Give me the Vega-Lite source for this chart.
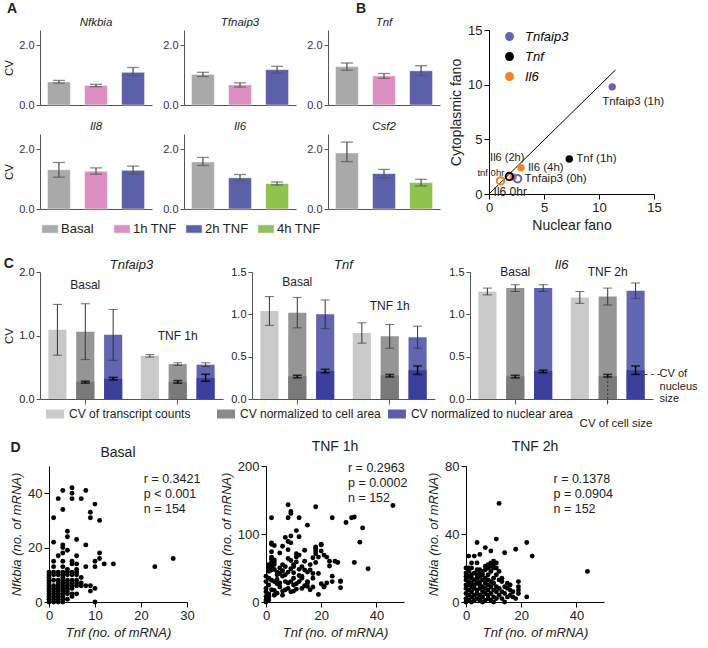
{
"$schema":"https://vega.github.io/schema/vega-lite/v6.json",
"padding":{"left":3,"top":2,"right":2,"bottom":2},
"background":"white",
"config":{
 "font":"Liberation Sans",
 "view":{"stroke":null},
 "axis":{"grid":false,"labelFont":"Liberation Sans","titleFont":"Liberation Sans","titleFontWeight":"normal","domainColor":"#333","tickColor":"#333","labelColor":"#222","titleColor":"#222","labelFlush":false,"labelOverlap":false},
 "title":{"font":"Liberation Sans","fontWeight":"normal","color":"#222"},
 "text":{"font":"Liberation Sans","color":"#222"},
 "legend":{"labelFont":"Liberation Sans"}
},
"datasets":{
 "A":[
  {"gene":"Nfkbia","cond":"Basal","cv":0.77,"lo":0.73,"hi":0.82},
  {"gene":"Nfkbia","cond":"1h TNF","cv":0.65,"lo":0.61,"hi":0.69},
  {"gene":"Nfkbia","cond":"2h TNF","cv":1.09,"lo":0.98,"hi":1.25},
  {"gene":"Tfnaip3","cond":"Basal","cv":1.02,"lo":0.95,"hi":1.09},
  {"gene":"Tfnaip3","cond":"1h TNF","cv":0.67,"lo":0.6,"hi":0.74},
  {"gene":"Tfnaip3","cond":"2h TNF","cv":1.18,"lo":1.06,"hi":1.29},
  {"gene":"Tnf","cond":"Basal","cv":1.28,"lo":1.16,"hi":1.4},
  {"gene":"Tnf","cond":"1h TNF","cv":0.97,"lo":0.89,"hi":1.05},
  {"gene":"Tnf","cond":"2h TNF","cv":1.14,"lo":0.98,"hi":1.31},
  {"gene":"Il8","cond":"Basal","cv":1.31,"lo":1.06,"hi":1.55},
  {"gene":"Il8","cond":"1h TNF","cv":1.26,"lo":1.16,"hi":1.37},
  {"gene":"Il8","cond":"2h TNF","cv":1.29,"lo":1.16,"hi":1.43},
  {"gene":"Il6","cond":"Basal","cv":1.57,"lo":1.45,"hi":1.72},
  {"gene":"Il6","cond":"2h TNF","cv":1.04,"lo":0.95,"hi":1.15},
  {"gene":"Il6","cond":"4h TNF","cv":0.85,"lo":0.8,"hi":0.9},
  {"gene":"Csf2","cond":"Basal","cv":1.87,"lo":1.58,"hi":2.23},
  {"gene":"Csf2","cond":"2h TNF","cv":1.18,"lo":1.04,"hi":1.32},
  {"gene":"Csf2","cond":"4h TNF","cv":0.88,"lo":0.77,"hi":0.99}
 ],
 "B":[
  {"gene":"Tnfaip3","time":"1h","nuclear":11.2,"cyto":9.8,"label":"Tnfaip3 (1h)"},
  {"gene":"Tnf","time":"1h","nuclear":7.3,"cyto":3.2,"label":"Tnf (1h)"},
  {"gene":"Il6","time":"4h","nuclear":2.9,"cyto":2.4,"label":"Il6 (4h)"},
  {"gene":"Il6","time":"2h","nuclear":2.2,"cyto":1.55,"label":"Il6 (2h)"},
  {"gene":"Tnfaip3","time":"0h","nuclear":2.6,"cyto":1.4,"label":"Tnfaip3 (0h)"},
  {"gene":"Tnf","time":"0h","nuclear":1.85,"cyto":1.6,"label":"tnf 0hr"},
  {"gene":"Il6","time":"0h","nuclear":1.05,"cyto":1.2,"label":"Il6 0hr"}
 ],
 "C":[
  {"gene":"Tnfaip3","group":"Basal","measure":"transcript","cv":1.09,"lo":0.69,"hi":1.49},
  {"gene":"Tnfaip3","group":"Basal","measure":"cell","cv":1.06,"lo":0.62,"hi":1.5,"size":0.27,"size_lo":0.25,"size_hi":0.28},
  {"gene":"Tnfaip3","group":"Basal","measure":"nuclear","cv":1.01,"lo":0.61,"hi":1.41,"size":0.32,"size_lo":0.3,"size_hi":0.34},
  {"gene":"Tnfaip3","group":"TNF 1h","measure":"transcript","cv":0.68,"lo":0.66,"hi":0.7},
  {"gene":"Tnfaip3","group":"TNF 1h","measure":"cell","cv":0.55,"lo":0.53,"hi":0.57,"size":0.27,"size_lo":0.25,"size_hi":0.29},
  {"gene":"Tnfaip3","group":"TNF 1h","measure":"nuclear","cv":0.54,"lo":0.51,"hi":0.57,"size":0.33,"size_lo":0.28,"size_hi":0.39},
  {"gene":"Tnf","group":"Basal","measure":"transcript","cv":1.04,"lo":0.87,"hi":1.21},
  {"gene":"Tnf","group":"Basal","measure":"cell","cv":1.02,"lo":0.84,"hi":1.2,"size":0.27,"size_lo":0.25,"size_hi":0.28},
  {"gene":"Tnf","group":"Basal","measure":"nuclear","cv":1.0,"lo":0.83,"hi":1.17,"size":0.33,"size_lo":0.31,"size_hi":0.35},
  {"gene":"Tnf","group":"TNF 1h","measure":"transcript","cv":0.78,"lo":0.66,"hi":0.9},
  {"gene":"Tnf","group":"TNF 1h","measure":"cell","cv":0.74,"lo":0.6,"hi":0.88,"size":0.28,"size_lo":0.26,"size_hi":0.29},
  {"gene":"Tnf","group":"TNF 1h","measure":"nuclear","cv":0.73,"lo":0.6,"hi":0.86,"size":0.34,"size_lo":0.29,"size_hi":0.39},
  {"gene":"Il6","group":"Basal","measure":"transcript","cv":1.27,"lo":1.23,"hi":1.31},
  {"gene":"Il6","group":"Basal","measure":"cell","cv":1.31,"lo":1.27,"hi":1.35,"size":0.27,"size_lo":0.25,"size_hi":0.28},
  {"gene":"Il6","group":"Basal","measure":"nuclear","cv":1.31,"lo":1.27,"hi":1.35,"size":0.33,"size_lo":0.31,"size_hi":0.34},
  {"gene":"Il6","group":"TNF 2h","measure":"transcript","cv":1.2,"lo":1.13,"hi":1.27},
  {"gene":"Il6","group":"TNF 2h","measure":"cell","cv":1.21,"lo":1.11,"hi":1.31,"size":0.27,"size_lo":0.26,"size_hi":0.29},
  {"gene":"Il6","group":"TNF 2h","measure":"nuclear","cv":1.28,"lo":1.19,"hi":1.37,"size":0.34,"size_lo":0.29,"size_hi":0.39}
 ],
 "D1":[
  {"tnf":0,"nfkbia":0},{"tnf":0,"nfkbia":1},{"tnf":0,"nfkbia":2},{"tnf":0,"nfkbia":3},{"tnf":0,"nfkbia":4},{"tnf":0,"nfkbia":5},{"tnf":0,"nfkbia":6},{"tnf":0,"nfkbia":7},{"tnf":0,"nfkbia":8},{"tnf":0,"nfkbia":9},{"tnf":0,"nfkbia":10},{"tnf":0,"nfkbia":11},
  {"tnf":1,"nfkbia":0},{"tnf":1,"nfkbia":1},{"tnf":1,"nfkbia":2},{"tnf":1,"nfkbia":3},{"tnf":1,"nfkbia":4},{"tnf":1,"nfkbia":5},{"tnf":1,"nfkbia":6},{"tnf":1,"nfkbia":8},{"tnf":1,"nfkbia":10},{"tnf":1,"nfkbia":11},{"tnf":1,"nfkbia":13},{"tnf":1,"nfkbia":15},{"tnf":1,"nfkbia":22},{"tnf":1,"nfkbia":31},
  {"tnf":2,"nfkbia":0},{"tnf":2,"nfkbia":1},{"tnf":2,"nfkbia":2},{"tnf":2,"nfkbia":3},{"tnf":2,"nfkbia":4},{"tnf":2,"nfkbia":5},{"tnf":2,"nfkbia":6},{"tnf":2,"nfkbia":7},{"tnf":2,"nfkbia":8},{"tnf":2,"nfkbia":10},{"tnf":2,"nfkbia":11},{"tnf":2,"nfkbia":17},{"tnf":2,"nfkbia":38},
  {"tnf":3,"nfkbia":0},{"tnf":3,"nfkbia":1},{"tnf":3,"nfkbia":2},{"tnf":3,"nfkbia":3},{"tnf":3,"nfkbia":4},{"tnf":3,"nfkbia":5},{"tnf":3,"nfkbia":6},{"tnf":3,"nfkbia":7},{"tnf":3,"nfkbia":8},{"tnf":3,"nfkbia":9},{"tnf":3,"nfkbia":10},{"tnf":3,"nfkbia":11},{"tnf":3,"nfkbia":13},{"tnf":3,"nfkbia":15},{"tnf":3,"nfkbia":18},{"tnf":3,"nfkbia":20},{"tnf":3,"nfkbia":21},{"tnf":3,"nfkbia":34},{"tnf":3,"nfkbia":41},
  {"tnf":4,"nfkbia":1},{"tnf":4,"nfkbia":3},{"tnf":4,"nfkbia":4},{"tnf":4,"nfkbia":5},{"tnf":4,"nfkbia":6},{"tnf":4,"nfkbia":7},{"tnf":4,"nfkbia":8},{"tnf":4,"nfkbia":10},{"tnf":4,"nfkbia":11},{"tnf":4,"nfkbia":12},{"tnf":4,"nfkbia":19},{"tnf":4,"nfkbia":24},{"tnf":4,"nfkbia":26},
  {"tnf":5,"nfkbia":2},{"tnf":5,"nfkbia":3},{"tnf":5,"nfkbia":5},{"tnf":5,"nfkbia":6},{"tnf":5,"nfkbia":7},{"tnf":5,"nfkbia":8},{"tnf":5,"nfkbia":10},{"tnf":5,"nfkbia":11},{"tnf":5,"nfkbia":14},{"tnf":5,"nfkbia":15},{"tnf":5,"nfkbia":38},{"tnf":5,"nfkbia":40},{"tnf":5,"nfkbia":42},
  {"tnf":6,"nfkbia":3},{"tnf":6,"nfkbia":6},{"tnf":6,"nfkbia":7},{"tnf":6,"nfkbia":8},{"tnf":6,"nfkbia":10},{"tnf":6,"nfkbia":11},{"tnf":6,"nfkbia":12},{"tnf":6,"nfkbia":14},{"tnf":6,"nfkbia":17},{"tnf":6,"nfkbia":23},
  {"tnf":7,"nfkbia":6},{"tnf":7,"nfkbia":7},{"tnf":7,"nfkbia":9},{"tnf":7,"nfkbia":38},
  {"tnf":8,"nfkbia":6},{"tnf":8,"nfkbia":13},{"tnf":8,"nfkbia":21},{"tnf":8,"nfkbia":41},
  {"tnf":9,"nfkbia":4},{"tnf":9,"nfkbia":6},{"tnf":9,"nfkbia":31},{"tnf":9,"nfkbia":33},
  {"tnf":10,"nfkbia":0},{"tnf":10,"nfkbia":5},{"tnf":10,"nfkbia":13},{"tnf":10,"nfkbia":15},{"tnf":10,"nfkbia":36},
  {"tnf":11,"nfkbia":16},{"tnf":11,"nfkbia":18},{"tnf":11,"nfkbia":30},
  {"tnf":12,"nfkbia":14},{"tnf":14,"nfkbia":14},{"tnf":23,"nfkbia":13},{"tnf":27,"nfkbia":16}
 ],
 "D2":[
  {"tnf":46,"nfkbia":142},{"tnf":8,"nfkbia":143},{"tnf":18,"nfkbia":140},{"tnf":9,"nfkbia":133},{"tnf":9,"nfkbia":130},{"tnf":2,"nfkbia":124},{"tnf":8,"nfkbia":124},{"tnf":12,"nfkbia":124},{"tnf":24,"nfkbia":124},{"tnf":31,"nfkbia":124},{"tnf":32,"nfkbia":125},{"tnf":29,"nfkbia":117},{"tnf":15,"nfkbia":113},{"tnf":35,"nfkbia":109},{"tnf":34,"nfkbia":88},{"tnf":11,"nfkbia":105},{"tnf":12,"nfkbia":96},{"tnf":9,"nfkbia":97},{"tnf":7,"nfkbia":95},{"tnf":8,"nfkbia":89},
  {"tnf":9,"nfkbia":87},{"tnf":2,"nfkbia":87},{"tnf":2,"nfkbia":85},{"tnf":3,"nfkbia":83},{"tnf":6,"nfkbia":82},{"tnf":20,"nfkbia":85},{"tnf":18,"nfkbia":81},{"tnf":18,"nfkbia":75},{"tnf":14,"nfkbia":76},{"tnf":21,"nfkbia":69},{"tnf":22,"nfkbia":66},{"tnf":23,"nfkbia":60},{"tnf":26,"nfkbia":58},{"tnf":32,"nfkbia":58},{"tnf":37,"nfkbia":49},{"tnf":24,"nfkbia":38},{"tnf":27,"nfkbia":30},{"tnf":27,"nfkbia":21},{"tnf":21,"nfkbia":23},{"tnf":19,"nfkbia":11},
  {"tnf":17,"nfkbia":22},{"tnf":13,"nfkbia":38},{"tnf":0,"nfkbia":20},{"tnf":0,"nfkbia":15},{"tnf":1,"nfkbia":8},{"tnf":0,"nfkbia":0},{"tnf":0,"nfkbia":3},{"tnf":1,"nfkbia":25},{"tnf":2,"nfkbia":32},{"tnf":2,"nfkbia":74},{"tnf":2,"nfkbia":66},{"tnf":2,"nfkbia":63},{"tnf":3,"nfkbia":59},{"tnf":5,"nfkbia":72},{"tnf":8,"nfkbia":77},{"tnf":11,"nfkbia":71},{"tnf":11,"nfkbia":66},{"tnf":12,"nfkbia":69},{"tnf":8,"nfkbia":64},{"tnf":9,"nfkbia":61},
  {"tnf":11,"nfkbia":59},{"tnf":14,"nfkbia":60},{"tnf":17,"nfkbia":65},{"tnf":18,"nfkbia":71},{"tnf":20,"nfkbia":84},{"tnf":18,"nfkbia":79},{"tnf":20,"nfkbia":75},{"tnf":3,"nfkbia":30},{"tnf":4,"nfkbia":27},{"tnf":2,"nfkbia":18},{"tnf":3,"nfkbia":17},{"tnf":5,"nfkbia":28},{"tnf":7,"nfkbia":30},{"tnf":8,"nfkbia":44},{"tnf":9,"nfkbia":49},{"tnf":10,"nfkbia":43},{"tnf":10,"nfkbia":35},{"tnf":9,"nfkbia":30},{"tnf":10,"nfkbia":16},{"tnf":11,"nfkbia":19},
  {"tnf":12,"nfkbia":39},{"tnf":13,"nfkbia":35},{"tnf":15,"nfkbia":44},{"tnf":16,"nfkbia":47},{"tnf":17,"nfkbia":42},{"tnf":17,"nfkbia":35},{"tnf":15,"nfkbia":30},{"tnf":15,"nfkbia":23},{"tnf":14,"nfkbia":24},{"tnf":15,"nfkbia":28},{"tnf":16,"nfkbia":18},{"tnf":19,"nfkbia":42},{"tnf":21,"nfkbia":22},{"tnf":24,"nfkbia":30},{"tnf":27,"nfkbia":31},{"tnf":6,"nfkbia":16},{"tnf":6,"nfkbia":10},{"tnf":8,"nfkbia":20},{"tnf":9,"nfkbia":15},{"tnf":11,"nfkbia":27},
  {"tnf":1,"nfkbia":55},{"tnf":1,"nfkbia":50},{"tnf":1,"nfkbia":45},{"tnf":2,"nfkbia":52},{"tnf":2,"nfkbia":47},{"tnf":3,"nfkbia":55},{"tnf":3,"nfkbia":48},{"tnf":4,"nfkbia":44},{"tnf":4,"nfkbia":40},{"tnf":5,"nfkbia":50},{"tnf":5,"nfkbia":42},{"tnf":0,"nfkbia":38},{"tnf":0,"nfkbia":30},{"tnf":1,"nfkbia":35},{"tnf":6,"nfkbia":55},{"tnf":6,"nfkbia":46},{"tnf":7,"nfkbia":52},{"tnf":7,"nfkbia":40},{"tnf":10,"nfkbia":52},{"tnf":10,"nfkbia":55},
  {"tnf":12,"nfkbia":48},{"tnf":13,"nfkbia":52},{"tnf":14,"nfkbia":47},{"tnf":16,"nfkbia":55},{"tnf":18,"nfkbia":58},{"tnf":19,"nfkbia":66},{"tnf":22,"nfkbia":28},{"tnf":23,"nfkbia":53},{"tnf":20,"nfkbia":27},{"tnf":25,"nfkbia":60},{"tnf":2,"nfkbia":58},{"tnf":3,"nfkbia":62},{"tnf":4,"nfkbia":33},{"tnf":6,"nfkbia":38},{"tnf":10,"nfkbia":25},{"tnf":12,"nfkbia":30},{"tnf":13,"nfkbia":20},{"tnf":8,"nfkbia":28},{"tnf":7,"nfkbia":18},{"tnf":5,"nfkbia":22},
  {"tnf":1,"nfkbia":3},{"tnf":0,"nfkbia":8},{"tnf":1,"nfkbia":12},{"tnf":4,"nfkbia":13},{"tnf":3,"nfkbia":10}
 ],
 "D3":[
  {"tnf":12,"nfkbia":58},{"tnf":11,"nfkbia":37},{"tnf":4,"nfkbia":35},{"tnf":22,"nfkbia":35},{"tnf":18,"nfkbia":31},{"tnf":14,"nfkbia":29},{"tnf":24,"nfkbia":27},{"tnf":44,"nfkbia":18},{"tnf":7,"nfkbia":32},{"tnf":9,"nfkbia":30},{"tnf":1,"nfkbia":27},{"tnf":3,"nfkbia":27},{"tnf":5,"nfkbia":28},{"tnf":2,"nfkbia":23},{"tnf":4,"nfkbia":23},{"tnf":11,"nfkbia":23},{"tnf":10,"nfkbia":22},{"tnf":9,"nfkbia":21},{"tnf":8,"nfkbia":20},{"tnf":7,"nfkbia":19},
  {"tnf":5,"nfkbia":19},{"tnf":0,"nfkbia":20},{"tnf":1,"nfkbia":20},{"tnf":2,"nfkbia":20},{"tnf":19,"nfkbia":12},{"tnf":19,"nfkbia":9},{"tnf":19,"nfkbia":7},{"tnf":19,"nfkbia":5},{"tnf":22,"nfkbia":3},{"tnf":17,"nfkbia":3},{"tnf":16,"nfkbia":4},{"tnf":14,"nfkbia":0},{"tnf":10,"nfkbia":0},{"tnf":6,"nfkbia":0},{"tnf":2,"nfkbia":0},{"tnf":0,"nfkbia":0},{"tnf":16,"nfkbia":7},{"tnf":14,"nfkbia":9},{"tnf":13,"nfkbia":12},{"tnf":13,"nfkbia":14},
  {"tnf":15,"nfkbia":11},{"tnf":0,"nfkbia":2},{"tnf":0,"nfkbia":5},{"tnf":0,"nfkbia":8},{"tnf":0,"nfkbia":10},{"tnf":0,"nfkbia":13},{"tnf":0,"nfkbia":15},{"tnf":0,"nfkbia":17},{"tnf":1,"nfkbia":1},{"tnf":1,"nfkbia":4},{"tnf":1,"nfkbia":7},{"tnf":1,"nfkbia":10},{"tnf":1,"nfkbia":12},{"tnf":1,"nfkbia":15},{"tnf":1,"nfkbia":18},{"tnf":2,"nfkbia":3},{"tnf":2,"nfkbia":6},{"tnf":2,"nfkbia":9},{"tnf":2,"nfkbia":11},{"tnf":2,"nfkbia":14},
  {"tnf":2,"nfkbia":16},{"tnf":3,"nfkbia":1},{"tnf":3,"nfkbia":4},{"tnf":3,"nfkbia":8},{"tnf":3,"nfkbia":10},{"tnf":3,"nfkbia":13},{"tnf":3,"nfkbia":17},{"tnf":4,"nfkbia":2},{"tnf":4,"nfkbia":5},{"tnf":4,"nfkbia":7},{"tnf":4,"nfkbia":11},{"tnf":4,"nfkbia":14},{"tnf":4,"nfkbia":16},{"tnf":4,"nfkbia":19},{"tnf":5,"nfkbia":1},{"tnf":5,"nfkbia":4},{"tnf":5,"nfkbia":8},{"tnf":5,"nfkbia":10},{"tnf":5,"nfkbia":12},{"tnf":5,"nfkbia":15},
  {"tnf":5,"nfkbia":17},{"tnf":6,"nfkbia":3},{"tnf":6,"nfkbia":6},{"tnf":6,"nfkbia":9},{"tnf":6,"nfkbia":13},{"tnf":6,"nfkbia":16},{"tnf":6,"nfkbia":18},{"tnf":7,"nfkbia":1},{"tnf":7,"nfkbia":5},{"tnf":7,"nfkbia":8},{"tnf":7,"nfkbia":11},{"tnf":7,"nfkbia":14},{"tnf":7,"nfkbia":21},{"tnf":8,"nfkbia":2},{"tnf":8,"nfkbia":4},{"tnf":8,"nfkbia":7},{"tnf":8,"nfkbia":10},{"tnf":8,"nfkbia":13},{"tnf":8,"nfkbia":16},{"tnf":8,"nfkbia":22},
  {"tnf":9,"nfkbia":1},{"tnf":9,"nfkbia":5},{"tnf":9,"nfkbia":9},{"tnf":9,"nfkbia":12},{"tnf":9,"nfkbia":18},{"tnf":9,"nfkbia":23},{"tnf":10,"nfkbia":3},{"tnf":10,"nfkbia":7},{"tnf":10,"nfkbia":11},{"tnf":10,"nfkbia":14},{"tnf":10,"nfkbia":20},{"tnf":10,"nfkbia":24},{"tnf":11,"nfkbia":2},{"tnf":11,"nfkbia":6},{"tnf":11,"nfkbia":9},{"tnf":11,"nfkbia":16},{"tnf":11,"nfkbia":20},{"tnf":12,"nfkbia":4},{"tnf":12,"nfkbia":8},{"tnf":12,"nfkbia":13},
  {"tnf":12,"nfkbia":18},{"tnf":13,"nfkbia":2},{"tnf":13,"nfkbia":6},{"tnf":14,"nfkbia":5},{"tnf":15,"nfkbia":3},{"tnf":15,"nfkbia":8},{"tnf":16,"nfkbia":10},{"tnf":17,"nfkbia":6},{"tnf":18,"nfkbia":2}
 ]
},
"spacing":21,
"resolve":{"scale":{"color":"independent"},"legend":{"color":"independent"}},
"vconcat":[
 {"spacing":0,
  "resolve":{"scale":{"color":"independent"},"legend":{"color":"independent"}},
  "vconcat":[
  {"width":349,"height":12,
   "data":{"values":[{"panel":"A"},{"panel":"B"}]},
   "mark":{"type":"text","align":"left","baseline":"middle","dx":-33,"fontSize":14,"fontWeight":"bold"},
   "encoding":{"x":{"field":"panel","type":"nominal","scale":{"type":"point","padding":0},"axis":null},"text":{"field":"panel"}}},
 {"hconcat":[
  {"spacing":9,
   "resolve":{"scale":{"color":"independent"},"legend":{"color":"independent"}},
   "vconcat":[
    {"columns":3,"spacing":{"row":10,"column":10},
     "resolve":{"scale":{"color":"independent"},"legend":{"color":"independent"}},
     "concat":[
      {"data":{"name":"A"},"transform":[{"filter":"datum.gene == 'Nfkbia'"}],"width":112,"height":75,
       "title":{"text":"Nfkbia","fontStyle":"italic","fontSize":11.5,"offset":2},
       "encoding":{"x":{"field":"cond","type":"nominal","sort":["Basal","1h TNF","2h TNF","4h TNF"],"scale":{"paddingInner":0.38,"paddingOuter":0.2},"axis":{"labels":false,"ticks":false,"title":null,"domainColor":"#555"}}},
       "layer":[
        {"mark":{"type":"bar","stroke":"#ffffff","strokeOpacity":0.5,"strokeWidth":1},"encoding":{"y":{"field":"cv","type":"quantitative","title":"CV","scale":{"domain":[0,2.5],"nice":false},"axis":{"values":[0,1,2],"format":".1f","tickSize":4,"labelFontSize":11,"titleFontSize":11.5,"domainColor":"#555","tickColor":"#555","labelColor":"#333"}},"color":{"field":"cond","type":"nominal","scale":{"domain":["Basal","1h TNF","2h TNF","4h TNF"],"range":["#a9a9a9","#dd8fc2","#5b60a9","#8ec352"]},"legend":null}}},
        {"mark":{"type":"rule","color":"#555","strokeWidth":1.3},"encoding":{"y":{"field":"lo","type":"quantitative","title":"CV","scale":{"domain":[0,2.5],"nice":false}},"y2":{"field":"hi"}}},
        {"mark":{"type":"tick","color":"#555","size":12,"thickness":1.3},"encoding":{"y":{"field":"lo","type":"quantitative","title":"CV","scale":{"domain":[0,2.5],"nice":false}}}},
        {"mark":{"type":"tick","color":"#555","size":12,"thickness":1.3},"encoding":{"y":{"field":"hi","type":"quantitative","title":"CV","scale":{"domain":[0,2.5],"nice":false}}}}
       ]},
      {"data":{"name":"A"},"transform":[{"filter":"datum.gene == 'Tfnaip3'"}],"width":112,"height":75,
       "title":{"text":"Tfnaip3","fontStyle":"italic","fontSize":11.5,"offset":2},
       "encoding":{"x":{"field":"cond","type":"nominal","sort":["Basal","1h TNF","2h TNF","4h TNF"],"scale":{"paddingInner":0.38,"paddingOuter":0.2},"axis":{"labels":false,"ticks":false,"title":null,"domainColor":"#555"}}},
       "layer":[
        {"mark":{"type":"bar","stroke":"#ffffff","strokeOpacity":0.5,"strokeWidth":1},"encoding":{"y":{"field":"cv","type":"quantitative","title":null,"scale":{"domain":[0,2.5],"nice":false},"axis":{"values":[0,1,2],"format":".1f","tickSize":4,"labelFontSize":11,"domainColor":"#555","tickColor":"#555","labelColor":"#333"}},"color":{"field":"cond","type":"nominal","scale":{"domain":["Basal","1h TNF","2h TNF","4h TNF"],"range":["#a9a9a9","#dd8fc2","#5b60a9","#8ec352"]},"legend":null}}},
        {"mark":{"type":"rule","color":"#555","strokeWidth":1.3},"encoding":{"y":{"field":"lo","type":"quantitative","title":null,"scale":{"domain":[0,2.5],"nice":false}},"y2":{"field":"hi"}}},
        {"mark":{"type":"tick","color":"#555","size":12,"thickness":1.3},"encoding":{"y":{"field":"lo","type":"quantitative","title":null,"scale":{"domain":[0,2.5],"nice":false}}}},
        {"mark":{"type":"tick","color":"#555","size":12,"thickness":1.3},"encoding":{"y":{"field":"hi","type":"quantitative","title":null,"scale":{"domain":[0,2.5],"nice":false}}}}
       ]},
      {"data":{"name":"A"},"transform":[{"filter":"datum.gene == 'Tnf'"}],"width":112,"height":75,
       "title":{"text":"Tnf","fontStyle":"italic","fontSize":11.5,"offset":2},
       "encoding":{"x":{"field":"cond","type":"nominal","sort":["Basal","1h TNF","2h TNF","4h TNF"],"scale":{"paddingInner":0.38,"paddingOuter":0.2},"axis":{"labels":false,"ticks":false,"title":null,"domainColor":"#555"}}},
       "layer":[
        {"mark":{"type":"bar","stroke":"#ffffff","strokeOpacity":0.5,"strokeWidth":1},"encoding":{"y":{"field":"cv","type":"quantitative","title":null,"scale":{"domain":[0,2.5],"nice":false},"axis":{"values":[0,1,2],"format":".1f","tickSize":4,"labelFontSize":11,"domainColor":"#555","tickColor":"#555","labelColor":"#333"}},"color":{"field":"cond","type":"nominal","scale":{"domain":["Basal","1h TNF","2h TNF","4h TNF"],"range":["#a9a9a9","#dd8fc2","#5b60a9","#8ec352"]},"legend":null}}},
        {"mark":{"type":"rule","color":"#555","strokeWidth":1.3},"encoding":{"y":{"field":"lo","type":"quantitative","title":null,"scale":{"domain":[0,2.5],"nice":false}},"y2":{"field":"hi"}}},
        {"mark":{"type":"tick","color":"#555","size":12,"thickness":1.3},"encoding":{"y":{"field":"lo","type":"quantitative","title":null,"scale":{"domain":[0,2.5],"nice":false}}}},
        {"mark":{"type":"tick","color":"#555","size":12,"thickness":1.3},"encoding":{"y":{"field":"hi","type":"quantitative","title":null,"scale":{"domain":[0,2.5],"nice":false}}}}
       ]},
      {"data":{"name":"A"},"transform":[{"filter":"datum.gene == 'Il8'"}],"width":112,"height":75,
       "title":{"text":"Il8","fontStyle":"italic","fontSize":11.5,"offset":2},
       "encoding":{"x":{"field":"cond","type":"nominal","sort":["Basal","1h TNF","2h TNF","4h TNF"],"scale":{"paddingInner":0.38,"paddingOuter":0.2},"axis":{"labels":false,"ticks":false,"title":null,"domainColor":"#555"}}},
       "layer":[
        {"mark":{"type":"bar","stroke":"#ffffff","strokeOpacity":0.5,"strokeWidth":1},"encoding":{"y":{"field":"cv","type":"quantitative","title":"CV","scale":{"domain":[0,2.5],"nice":false},"axis":{"values":[0,1,2],"format":".1f","tickSize":4,"labelFontSize":11,"titleFontSize":11.5,"domainColor":"#555","tickColor":"#555","labelColor":"#333"}},"color":{"field":"cond","type":"nominal","scale":{"domain":["Basal","1h TNF","2h TNF","4h TNF"],"range":["#a9a9a9","#dd8fc2","#5b60a9","#8ec352"]},"legend":null}}},
        {"mark":{"type":"rule","color":"#555","strokeWidth":1.3},"encoding":{"y":{"field":"lo","type":"quantitative","title":"CV","scale":{"domain":[0,2.5],"nice":false}},"y2":{"field":"hi"}}},
        {"mark":{"type":"tick","color":"#555","size":12,"thickness":1.3},"encoding":{"y":{"field":"lo","type":"quantitative","title":"CV","scale":{"domain":[0,2.5],"nice":false}}}},
        {"mark":{"type":"tick","color":"#555","size":12,"thickness":1.3},"encoding":{"y":{"field":"hi","type":"quantitative","title":"CV","scale":{"domain":[0,2.5],"nice":false}}}}
       ]},
      {"data":{"name":"A"},"transform":[{"filter":"datum.gene == 'Il6'"}],"width":112,"height":75,
       "title":{"text":"Il6","fontStyle":"italic","fontSize":11.5,"offset":2},
       "encoding":{"x":{"field":"cond","type":"nominal","sort":["Basal","1h TNF","2h TNF","4h TNF"],"scale":{"paddingInner":0.38,"paddingOuter":0.2},"axis":{"labels":false,"ticks":false,"title":null,"domainColor":"#555"}}},
       "layer":[
        {"mark":{"type":"bar","stroke":"#ffffff","strokeOpacity":0.5,"strokeWidth":1},"encoding":{"y":{"field":"cv","type":"quantitative","title":null,"scale":{"domain":[0,2.5],"nice":false},"axis":{"values":[0,1,2],"format":".1f","tickSize":4,"labelFontSize":11,"domainColor":"#555","tickColor":"#555","labelColor":"#333"}},"color":{"field":"cond","type":"nominal","scale":{"domain":["Basal","1h TNF","2h TNF","4h TNF"],"range":["#a9a9a9","#dd8fc2","#5b60a9","#8ec352"]},"legend":null}}},
        {"mark":{"type":"rule","color":"#555","strokeWidth":1.3},"encoding":{"y":{"field":"lo","type":"quantitative","title":null,"scale":{"domain":[0,2.5],"nice":false}},"y2":{"field":"hi"}}},
        {"mark":{"type":"tick","color":"#555","size":12,"thickness":1.3},"encoding":{"y":{"field":"lo","type":"quantitative","title":null,"scale":{"domain":[0,2.5],"nice":false}}}},
        {"mark":{"type":"tick","color":"#555","size":12,"thickness":1.3},"encoding":{"y":{"field":"hi","type":"quantitative","title":null,"scale":{"domain":[0,2.5],"nice":false}}}}
       ]},
      {"data":{"name":"A"},"transform":[{"filter":"datum.gene == 'Csf2'"}],"width":112,"height":75,
       "title":{"text":"Csf2","fontStyle":"italic","fontSize":11.5,"offset":2},
       "encoding":{"x":{"field":"cond","type":"nominal","sort":["Basal","1h TNF","2h TNF","4h TNF"],"scale":{"paddingInner":0.38,"paddingOuter":0.2},"axis":{"labels":false,"ticks":false,"title":null,"domainColor":"#555"}}},
       "layer":[
        {"mark":{"type":"bar","stroke":"#ffffff","strokeOpacity":0.5,"strokeWidth":1},"encoding":{"y":{"field":"cv","type":"quantitative","title":null,"scale":{"domain":[0,2.5],"nice":false},"axis":{"values":[0,1,2],"format":".1f","tickSize":4,"labelFontSize":11,"domainColor":"#555","tickColor":"#555","labelColor":"#333"}},"color":{"field":"cond","type":"nominal","scale":{"domain":["Basal","1h TNF","2h TNF","4h TNF"],"range":["#a9a9a9","#dd8fc2","#5b60a9","#8ec352"]},"legend":null}}},
        {"mark":{"type":"rule","color":"#555","strokeWidth":1.3},"encoding":{"y":{"field":"lo","type":"quantitative","title":null,"scale":{"domain":[0,2.5],"nice":false}},"y2":{"field":"hi"}}},
        {"mark":{"type":"tick","color":"#555","size":12,"thickness":1.3},"encoding":{"y":{"field":"lo","type":"quantitative","title":null,"scale":{"domain":[0,2.5],"nice":false}}}},
        {"mark":{"type":"tick","color":"#555","size":12,"thickness":1.3},"encoding":{"y":{"field":"hi","type":"quantitative","title":null,"scale":{"domain":[0,2.5],"nice":false}}}}
       ]}
     ]},
    {"width":236,"height":12,
     "data":{"values":[{"cond":"Basal"},{"cond":"1h TNF"},{"cond":"2h TNF"},{"cond":"4h TNF"}]},
     "encoding":{"x":{"field":"cond","type":"nominal","sort":null,"scale":{"type":"point","padding":0.139},"axis":null}},
     "layer":[
      {"mark":{"type":"point","shape":"M-1,-0.5H1V0.5H-1Z","filled":true,"size":256,"opacity":1,"stroke":"#dddddd","strokeWidth":0.6},"encoding":{"color":{"field":"cond","type":"nominal","scale":{"domain":["Basal","1h TNF","2h TNF","4h TNF"],"range":["#a9a9a9","#dd8fc2","#5b60a9","#8ec352"]},"legend":null}}},
      {"mark":{"type":"text","align":"left","baseline":"middle","dx":11,"fontSize":13},"encoding":{"text":{"field":"cond"}}}
     ]}
   ]},
  {"width":165,"height":164,
   "layer":[
    {"data":{"values":[{"nuclear":0,"cyto":0},{"nuclear":11.5,"cyto":11.35}]},
     "mark":{"type":"line","color":"#000","strokeWidth":1},
     "encoding":{"x":{"field":"nuclear","type":"quantitative","title":"Nuclear fano","scale":{"domain":[0,15],"nice":false},"axis":{"values":[0,5,10,15],"tickSize":5,"labelFontSize":13,"titleFontSize":14,"domainColor":"#000","tickColor":"#000"}},
                 "y":{"field":"cyto","type":"quantitative","title":"Cytoplasmic fano","scale":{"domain":[0,15],"nice":false},"axis":{"values":[0,5,10,15],"tickSize":5,"labelFontSize":13,"titleFontSize":14,"domainColor":"#000","tickColor":"#000"}}}},
    {"data":{"name":"B"},"transform":[{"filter":"datum.time != '0h'"}],
     "mark":{"type":"point","filled":true,"size":55,"opacity":1},
     "encoding":{"x":{"field":"nuclear","type":"quantitative","scale":{"domain":[0,15],"nice":false}},"y":{"field":"cyto","type":"quantitative","scale":{"domain":[0,15],"nice":false}},
                 "color":{"field":"gene","type":"nominal","scale":{"domain":["Tnfaip3","Tnf","Il6"],"range":["#6662b6","#000000","#f5821f"]},"legend":{"orient":"none","legendX":14,"legendY":0,"title":null,"labelFontStyle":"italic","labelFontSize":13,"symbolSize":55,"symbolType":"circle","rowPadding":5,"labelOffset":9}}}},
    {"data":{"name":"B"},"transform":[{"filter":"datum.time == '0h'"}],
     "mark":{"type":"point","filled":false,"size":55,"strokeWidth":2,"opacity":1},
     "encoding":{"x":{"field":"nuclear","type":"quantitative","scale":{"domain":[0,15],"nice":false}},"y":{"field":"cyto","type":"quantitative","scale":{"domain":[0,15],"nice":false}},
                 "color":{"field":"gene","type":"nominal","scale":{"domain":["Tnfaip3","Tnf","Il6"],"range":["#6662b6","#000000","#f5821f"]},"legend":null}}},
    {"data":{"name":"B"},"transform":[{"filter":{"field":"label","oneOf":["Tnf (1h)","Il6 (4h)","Tnfaip3 (0h)"]}}],
     "mark":{"type":"text","align":"left","baseline":"middle","dx":7,"fontSize":11.5},
     "encoding":{"x":{"field":"nuclear","type":"quantitative"},"y":{"field":"cyto","type":"quantitative"},"text":{"field":"label"}}},
    {"data":{"name":"B"},"transform":[{"filter":"datum.label == 'Tnfaip3 (1h)'"}],
     "mark":{"type":"text","align":"left","baseline":"middle","dx":-10,"dy":15,"fontSize":11.5},
     "encoding":{"x":{"field":"nuclear","type":"quantitative"},"y":{"field":"cyto","type":"quantitative"},"text":{"field":"label"}}},
    {"data":{"name":"B"},"transform":[{"filter":"datum.label == 'Il6 (2h)'"}],
     "mark":{"type":"text","align":"center","baseline":"middle","dx":-6,"dy":-19,"fontSize":11},
     "encoding":{"x":{"field":"nuclear","type":"quantitative"},"y":{"field":"cyto","type":"quantitative"},"text":{"field":"label"}}},
    {"data":{"name":"B"},"transform":[{"filter":"datum.label == 'tnf 0hr'"}],
     "mark":{"type":"text","align":"right","baseline":"middle","dx":-5,"dy":-4,"fontSize":9.5},
     "encoding":{"x":{"field":"nuclear","type":"quantitative"},"y":{"field":"cyto","type":"quantitative"},"text":{"field":"label"}}},
    {"data":{"name":"B"},"transform":[{"filter":"datum.label == 'Il6 0hr'"}],
     "mark":{"type":"text","align":"left","baseline":"middle","dx":-7,"dy":11,"fontSize":12},
     "encoding":{"x":{"field":"nuclear","type":"quantitative"},"y":{"field":"cyto","type":"quantitative"},"text":{"field":"label"}}}
   ]}
 ],"spacing":9,"resolve":{"scale":{"color":"independent"},"legend":{"color":"independent"}}}
 ]},
 {"spacing":10,
  "resolve":{"scale":{"color":"independent"},"legend":{"color":"independent"}},
  "vconcat":[
 {"title":{"text":"C","anchor":"start","fontWeight":"bold","fontSize":14,"offset":-12},
  "spacing":2,
  "resolve":{"scale":{"color":"independent"},"legend":{"color":"independent"}},
  "vconcat":[
   {"spacing":7,"resolve":{"scale":{"color":"independent"},"legend":{"color":"independent"}},"hconcat":[
    {"width":183,"height":127,
     "title":{"text":"Tnfaip3","fontStyle":"italic","fontSize":13,"offset":-6},
     "layer":[
      {"data":{"name":"C"},"transform":[{"filter":"datum.gene == 'Tnfaip3'"}],"mark":{"type":"bar","opacity":0.8},
       "encoding":{"x":{"field":"group","type":"nominal","scale":{"paddingInner":0.02,"paddingOuter":0},"axis":{"labels":false,"title":null,"tickSize":5,"domainColor":"#555","tickColor":"#555"}},
        "xOffset":{"field":"measure","type":"nominal","sort":["transcript","cell","nuclear"],"scale":{"paddingInner":0.35,"paddingOuter":0.3}},
        "y":{"field":"cv","type":"quantitative","title":"CV","scale":{"domain":[0,2],"nice":false},"axis":{"values":[0,0.5,1,1.5,2],"format":".1f","tickSize":4,"labelFontSize":11,"titleFontSize":11.5,"domainColor":"#555","tickColor":"#555"}},
        "color":{"field":"measure","type":"nominal","scale":{"domain":["transcript","cell","nuclear"],"range":["#bcbcbc","#7a7a7a","#3b3f9c"]},"legend":null}}},
      {"data":{"name":"C"},"transform":[{"filter":"datum.gene == 'Tnfaip3' && isValid(datum.size)"}],"mark":{"type":"bar"},
       "encoding":{"x":{"field":"group","type":"nominal"},"xOffset":{"field":"measure","type":"nominal","sort":["transcript","cell","nuclear"]},
        "y":{"field":"size","type":"quantitative","title":"CV","scale":{"domain":[0,2],"nice":false}},
        "color":{"field":"measure","type":"nominal","legend":null}}},
      {"data":{"name":"C"},"transform":[{"filter":"datum.gene == 'Tnfaip3'"}],"mark":{"type":"rule","color":"#333","strokeWidth":1},
       "encoding":{"x":{"field":"group","type":"nominal"},"xOffset":{"field":"measure","type":"nominal","sort":["transcript","cell","nuclear"]},"y":{"field":"lo","type":"quantitative","title":"CV","scale":{"domain":[0,2],"nice":false}},"y2":{"field":"hi"}}},
      {"data":{"name":"C"},"transform":[{"filter":"datum.gene == 'Tnfaip3'"}],"mark":{"type":"tick","color":"#333","size":9,"thickness":1},
       "encoding":{"x":{"field":"group","type":"nominal"},"xOffset":{"field":"measure","type":"nominal","sort":["transcript","cell","nuclear"]},"y":{"field":"lo","type":"quantitative","title":"CV","scale":{"domain":[0,2],"nice":false}}}},
      {"data":{"name":"C"},"transform":[{"filter":"datum.gene == 'Tnfaip3'"}],"mark":{"type":"tick","color":"#333","size":9,"thickness":1},
       "encoding":{"x":{"field":"group","type":"nominal"},"xOffset":{"field":"measure","type":"nominal","sort":["transcript","cell","nuclear"]},"y":{"field":"hi","type":"quantitative","title":"CV","scale":{"domain":[0,2],"nice":false}}}},
      {"data":{"name":"C"},"transform":[{"filter":"datum.gene == 'Tnfaip3' && isValid(datum.size)"}],"mark":{"type":"rule","color":"#000","strokeWidth":1.5},
       "encoding":{"x":{"field":"group","type":"nominal"},"xOffset":{"field":"measure","type":"nominal","sort":["transcript","cell","nuclear"]},"y":{"field":"size_lo","type":"quantitative","title":"CV","scale":{"domain":[0,2],"nice":false}},"y2":{"field":"size_hi"}}},
      {"data":{"name":"C"},"transform":[{"filter":"datum.gene == 'Tnfaip3' && isValid(datum.size)"}],"mark":{"type":"tick","color":"#000","size":9,"thickness":1.6},
       "encoding":{"x":{"field":"group","type":"nominal"},"xOffset":{"field":"measure","type":"nominal","sort":["transcript","cell","nuclear"]},"y":{"field":"size_lo","type":"quantitative","title":"CV","scale":{"domain":[0,2],"nice":false}}}},
      {"data":{"name":"C"},"transform":[{"filter":"datum.gene == 'Tnfaip3' && isValid(datum.size)"}],"mark":{"type":"tick","color":"#000","size":9,"thickness":1.6},
       "encoding":{"x":{"field":"group","type":"nominal"},"xOffset":{"field":"measure","type":"nominal","sort":["transcript","cell","nuclear"]},"y":{"field":"size_hi","type":"quantitative","title":"CV","scale":{"domain":[0,2],"nice":false}}}},
      {"data":{"values":[{"group":"Basal"}]},"mark":{"type":"text","fontSize":12,"baseline":"middle"},
       "encoding":{"x":{"field":"group","type":"nominal"},"y":{"datum":1.8,"type":"quantitative","scale":{"domain":[0,2],"nice":false}},"text":{"field":"group"}}},
      {"data":{"values":[{"group":"TNF 1h"}]},"mark":{"type":"text","fontSize":12,"baseline":"middle"},
       "encoding":{"x":{"field":"group","type":"nominal"},"y":{"datum":1.0,"type":"quantitative","scale":{"domain":[0,2],"nice":false}},"text":{"field":"group"}}}
     ]},
    {"spacing":13,"resolve":{"scale":{"color":"independent"},"legend":{"color":"independent"}},"hconcat":[
     {"width":183,"height":127,
      "title":{"text":"Tnf","fontStyle":"italic","fontSize":13,"offset":-6},
      "layer":[
       {"data":{"name":"C"},"transform":[{"filter":"datum.gene == 'Tnf'"}],"mark":{"type":"bar","opacity":0.8},
        "encoding":{"x":{"field":"group","type":"nominal","scale":{"paddingInner":0.02,"paddingOuter":0},"axis":{"labels":false,"title":null,"tickSize":5,"domainColor":"#555","tickColor":"#555"}},
         "xOffset":{"field":"measure","type":"nominal","sort":["transcript","cell","nuclear"],"scale":{"paddingInner":0.35,"paddingOuter":0.3}},
         "y":{"field":"cv","type":"quantitative","title":null,"scale":{"domain":[0,1.5],"nice":false},"axis":{"values":[0,0.5,1,1.5],"format":".1f","tickSize":4,"labelFontSize":11,"domainColor":"#555","tickColor":"#555"}},
         "color":{"field":"measure","type":"nominal","scale":{"domain":["transcript","cell","nuclear"],"range":["#bcbcbc","#7a7a7a","#3b3f9c"]},"legend":null}}},
       {"data":{"name":"C"},"transform":[{"filter":"datum.gene == 'Tnf' && isValid(datum.size)"}],"mark":{"type":"bar"},
        "encoding":{"x":{"field":"group","type":"nominal"},"xOffset":{"field":"measure","type":"nominal","sort":["transcript","cell","nuclear"]},
         "y":{"field":"size","type":"quantitative","title":null,"scale":{"domain":[0,1.5],"nice":false}},
         "color":{"field":"measure","type":"nominal","legend":null}}},
       {"data":{"name":"C"},"transform":[{"filter":"datum.gene == 'Tnf'"}],"mark":{"type":"rule","color":"#333","strokeWidth":1},
        "encoding":{"x":{"field":"group","type":"nominal"},"xOffset":{"field":"measure","type":"nominal","sort":["transcript","cell","nuclear"]},"y":{"field":"lo","type":"quantitative","title":null,"scale":{"domain":[0,1.5],"nice":false}},"y2":{"field":"hi"}}},
       {"data":{"name":"C"},"transform":[{"filter":"datum.gene == 'Tnf'"}],"mark":{"type":"tick","color":"#333","size":9,"thickness":1},
        "encoding":{"x":{"field":"group","type":"nominal"},"xOffset":{"field":"measure","type":"nominal","sort":["transcript","cell","nuclear"]},"y":{"field":"lo","type":"quantitative","title":null,"scale":{"domain":[0,1.5],"nice":false}}}},
       {"data":{"name":"C"},"transform":[{"filter":"datum.gene == 'Tnf'"}],"mark":{"type":"tick","color":"#333","size":9,"thickness":1},
        "encoding":{"x":{"field":"group","type":"nominal"},"xOffset":{"field":"measure","type":"nominal","sort":["transcript","cell","nuclear"]},"y":{"field":"hi","type":"quantitative","title":null,"scale":{"domain":[0,1.5],"nice":false}}}},
       {"data":{"name":"C"},"transform":[{"filter":"datum.gene == 'Tnf' && isValid(datum.size)"}],"mark":{"type":"rule","color":"#000","strokeWidth":1.5},
        "encoding":{"x":{"field":"group","type":"nominal"},"xOffset":{"field":"measure","type":"nominal","sort":["transcript","cell","nuclear"]},"y":{"field":"size_lo","type":"quantitative","title":null,"scale":{"domain":[0,1.5],"nice":false}},"y2":{"field":"size_hi"}}},
       {"data":{"name":"C"},"transform":[{"filter":"datum.gene == 'Tnf' && isValid(datum.size)"}],"mark":{"type":"tick","color":"#000","size":9,"thickness":1.6},
        "encoding":{"x":{"field":"group","type":"nominal"},"xOffset":{"field":"measure","type":"nominal","sort":["transcript","cell","nuclear"]},"y":{"field":"size_lo","type":"quantitative","title":null,"scale":{"domain":[0,1.5],"nice":false}}}},
       {"data":{"name":"C"},"transform":[{"filter":"datum.gene == 'Tnf' && isValid(datum.size)"}],"mark":{"type":"tick","color":"#000","size":9,"thickness":1.6},
        "encoding":{"x":{"field":"group","type":"nominal"},"xOffset":{"field":"measure","type":"nominal","sort":["transcript","cell","nuclear"]},"y":{"field":"size_hi","type":"quantitative","title":null,"scale":{"domain":[0,1.5],"nice":false}}}},
       {"data":{"values":[{"group":"Basal"}]},"mark":{"type":"text","fontSize":12,"baseline":"middle"},
        "encoding":{"x":{"field":"group","type":"nominal"},"y":{"datum":1.38,"type":"quantitative","scale":{"domain":[0,1.5],"nice":false}},"text":{"field":"group"}}},
       {"data":{"values":[{"group":"TNF 1h"}]},"mark":{"type":"text","fontSize":12,"baseline":"middle"},
        "encoding":{"x":{"field":"group","type":"nominal"},"y":{"datum":1.1,"type":"quantitative","scale":{"domain":[0,1.5],"nice":false}},"text":{"field":"group"}}}
      ]},
     {"width":183,"height":127,
      "title":{"text":"Il6","fontStyle":"italic","fontSize":13,"offset":-6},
      "layer":[
       {"data":{"name":"C"},"transform":[{"filter":"datum.gene == 'Il6'"}],"mark":{"type":"bar","opacity":0.8},
        "encoding":{"x":{"field":"group","type":"nominal","scale":{"paddingInner":0.02,"paddingOuter":0},"axis":{"labels":false,"title":null,"tickSize":5,"domainColor":"#555","tickColor":"#555"}},
         "xOffset":{"field":"measure","type":"nominal","sort":["transcript","cell","nuclear"],"scale":{"paddingInner":0.35,"paddingOuter":0.3}},
         "y":{"field":"cv","type":"quantitative","title":null,"scale":{"domain":[0,1.5],"nice":false},"axis":{"values":[0,0.5,1,1.5],"format":".1f","tickSize":4,"labelFontSize":11,"domainColor":"#555","tickColor":"#555"}},
         "color":{"field":"measure","type":"nominal","scale":{"domain":["transcript","cell","nuclear"],"range":["#bcbcbc","#7a7a7a","#3b3f9c"]},"legend":null}}},
       {"data":{"name":"C"},"transform":[{"filter":"datum.gene == 'Il6' && isValid(datum.size)"}],"mark":{"type":"bar"},
        "encoding":{"x":{"field":"group","type":"nominal"},"xOffset":{"field":"measure","type":"nominal","sort":["transcript","cell","nuclear"]},
         "y":{"field":"size","type":"quantitative","title":null,"scale":{"domain":[0,1.5],"nice":false}},
         "color":{"field":"measure","type":"nominal","legend":null}}},
       {"data":{"name":"C"},"transform":[{"filter":"datum.gene == 'Il6'"}],"mark":{"type":"rule","color":"#333","strokeWidth":1},
        "encoding":{"x":{"field":"group","type":"nominal"},"xOffset":{"field":"measure","type":"nominal","sort":["transcript","cell","nuclear"]},"y":{"field":"lo","type":"quantitative","title":null,"scale":{"domain":[0,1.5],"nice":false}},"y2":{"field":"hi"}}},
       {"data":{"name":"C"},"transform":[{"filter":"datum.gene == 'Il6'"}],"mark":{"type":"tick","color":"#333","size":9,"thickness":1},
        "encoding":{"x":{"field":"group","type":"nominal"},"xOffset":{"field":"measure","type":"nominal","sort":["transcript","cell","nuclear"]},"y":{"field":"lo","type":"quantitative","title":null,"scale":{"domain":[0,1.5],"nice":false}}}},
       {"data":{"name":"C"},"transform":[{"filter":"datum.gene == 'Il6'"}],"mark":{"type":"tick","color":"#333","size":9,"thickness":1},
        "encoding":{"x":{"field":"group","type":"nominal"},"xOffset":{"field":"measure","type":"nominal","sort":["transcript","cell","nuclear"]},"y":{"field":"hi","type":"quantitative","title":null,"scale":{"domain":[0,1.5],"nice":false}}}},
       {"data":{"name":"C"},"transform":[{"filter":"datum.gene == 'Il6' && isValid(datum.size)"}],"mark":{"type":"rule","color":"#000","strokeWidth":1.5},
        "encoding":{"x":{"field":"group","type":"nominal"},"xOffset":{"field":"measure","type":"nominal","sort":["transcript","cell","nuclear"]},"y":{"field":"size_lo","type":"quantitative","title":null,"scale":{"domain":[0,1.5],"nice":false}},"y2":{"field":"size_hi"}}},
       {"data":{"name":"C"},"transform":[{"filter":"datum.gene == 'Il6' && isValid(datum.size)"}],"mark":{"type":"tick","color":"#000","size":9,"thickness":1.6},
        "encoding":{"x":{"field":"group","type":"nominal"},"xOffset":{"field":"measure","type":"nominal","sort":["transcript","cell","nuclear"]},"y":{"field":"size_lo","type":"quantitative","title":null,"scale":{"domain":[0,1.5],"nice":false}}}},
       {"data":{"name":"C"},"transform":[{"filter":"datum.gene == 'Il6' && isValid(datum.size)"}],"mark":{"type":"tick","color":"#000","size":9,"thickness":1.6},
        "encoding":{"x":{"field":"group","type":"nominal"},"xOffset":{"field":"measure","type":"nominal","sort":["transcript","cell","nuclear"]},"y":{"field":"size_hi","type":"quantitative","title":null,"scale":{"domain":[0,1.5],"nice":false}}}},
       {"data":{"values":[{"group":"Basal"},{"group":"TNF 2h"}]},"mark":{"type":"text","fontSize":12,"baseline":"middle"},
        "encoding":{"x":{"field":"group","type":"nominal"},"y":{"datum":1.5,"type":"quantitative","scale":{"domain":[0,1.5],"nice":false}},"text":{"field":"group"}}},
       {"data":{"values":[{"group":"TNF 2h","measure":"cell"}]},"mark":{"type":"rule","color":"#333","strokeDash":[2,2],"strokeWidth":1},
        "encoding":{"x":{"field":"group","type":"nominal"},"xOffset":{"field":"measure","type":"nominal","sort":["transcript","cell","nuclear"]},"y":{"datum":0.26,"type":"quantitative","scale":{"domain":[0,1.5],"nice":false}},"y2":{"datum":-0.05}}},
       {"data":{"values":[{"group":"TNF 2h","measure":"nuclear","note":"- - -"}]},"mark":{"type":"text","align":"left","baseline":"middle","dx":9,"fontSize":10},
        "encoding":{"x":{"field":"group","type":"nominal"},"xOffset":{"field":"measure","type":"nominal","sort":["transcript","cell","nuclear"]},"y":{"datum":0.29,"type":"quantitative","scale":{"domain":[0,1.5],"nice":false}},"text":{"field":"note"}}},
       {"data":{"values":[{"group":"TNF 2h","measure":"nuclear","note":"CV of\nnucleus\nsize"}]},"mark":{"type":"text","align":"left","baseline":"top","dx":24,"dy":-6,"lineBreak":"\n","lineHeight":12.5,"fontSize":11},
        "encoding":{"x":{"field":"group","type":"nominal"},"xOffset":{"field":"measure","type":"nominal","sort":["transcript","cell","nuclear"]},"y":{"datum":0.29,"type":"quantitative","scale":{"domain":[0,1.5],"nice":false}},"text":{"field":"note"}}}
      ]}
    ]}
   ]},
   {"spacing":5,"resolve":{"scale":{"color":"independent"},"legend":{"color":"independent"}},"hconcat":[
    {"width":372,"height":14,
     "data":{"values":[{"item":"CV of transcript counts"},{"item":"CV normalized to cell area"},{"item":"CV normalized to nuclear area"}]},
     "encoding":{"x":{"field":"item","type":"nominal","sort":null,"scale":{"type":"point","padding":0.088},"axis":null}},
     "layer":[
      {"mark":{"type":"point","shape":"M-1,-0.5H1V0.5H-1Z","filled":true,"size":324,"opacity":1},"encoding":{"color":{"field":"item","type":"nominal","scale":{"domain":["CV of transcript counts","CV normalized to cell area","CV normalized to nuclear area"],"range":["#cacaca","#8a8a8a","#5a5eab"]},"legend":null}}},
      {"mark":{"type":"text","align":"left","baseline":"middle","dx":14,"fontSize":12},"encoding":{"text":{"field":"item"}}}
     ]},
    {"width":64,"height":14,
     "data":{"values":[{"note":"CV of cell size"}]},
     "mark":{"type":"text","fontSize":11.5,"baseline":"middle","dy":10},
     "encoding":{"text":{"field":"note"}}}
   ]}
  ]},
 {"title":{"text":"D","anchor":"start","fontWeight":"bold","fontSize":14,"offset":-15},
  "spacing":-31,
  "hconcat":[
   {"width":1,"height":1,"data":{"values":[]},"mark":{"type":"point","opacity":0}},
   {"spacing":19,"hconcat":[
   {"width":138,"height":136,
    "title":{"text":"Basal","fontSize":14,"offset":6},
    "layer":[
     {"data":{"name":"D1"},"mark":{"type":"circle","size":24,"color":"#000","opacity":1},
      "encoding":{"x":{"field":"tnf","type":"quantitative","title":"Tnf (no. of mRNA)","scale":{"domain":[0,30],"nice":false},"axis":{"values":[0,10,20,30],"tickSize":5,"labelFontSize":13,"titleFontSize":13,"titleFontStyle":"italic","domainColor":"#000","tickColor":"#000"}},
                  "y":{"field":"nfkbia","type":"quantitative","title":"Nfkbia (no. of mRNA)","scale":{"domain":[0,50],"nice":false},"axis":{"values":[0,10,20,30,40,50],"tickSize":5,"labelFontSize":13,"titleFontSize":13,"titleFontStyle":"italic","domainColor":"#000","tickColor":"#000"}}}},
     {"data":{"values":[{"stats":"r = 0.3421\np < 0.001\nn = 154"}]},"mark":{"type":"text","align":"left","baseline":"top","dy":-7,"lineBreak":"\n","lineHeight":15,"fontSize":12.5},
      "encoding":{"x":{"datum":20.6,"type":"quantitative","scale":{"domain":[0,30],"nice":false}},"y":{"datum":44.8,"type":"quantitative","scale":{"domain":[0,50],"nice":false}},"text":{"field":"stats"}}}
    ]},
   {"spacing":19,"hconcat":[
    {"width":138,"height":136,
     "title":{"text":"TNF 1h","fontSize":14,"offset":6},
     "layer":[
      {"data":{"name":"D2"},"mark":{"type":"circle","size":24,"color":"#000","opacity":1},
       "encoding":{"x":{"field":"tnf","type":"quantitative","title":"Tnf (no. of mRNA)","scale":{"domain":[0,50],"nice":false},"axis":{"values":[0,10,20,30,40,50],"tickSize":5,"labelFontSize":13,"titleFontSize":13,"titleFontStyle":"italic","domainColor":"#000","tickColor":"#000"}},
                   "y":{"field":"nfkbia","type":"quantitative","title":"Nfkbia (no. of mRNA)","scale":{"domain":[0,200],"nice":false},"axis":{"values":[0,50,100,150,200],"tickSize":5,"labelFontSize":13,"titleFontSize":13,"titleFontStyle":"italic","domainColor":"#000","tickColor":"#000"}}}},
      {"data":{"values":[{"stats":"r = 0.2963\np = 0.0002\nn = 152"}]},"mark":{"type":"text","align":"left","baseline":"top","dy":-7,"lineBreak":"\n","lineHeight":15,"fontSize":12.5},
       "encoding":{"x":{"datum":29.7,"type":"quantitative","scale":{"domain":[0,50],"nice":false}},"y":{"datum":196,"type":"quantitative","scale":{"domain":[0,200],"nice":false}},"text":{"field":"stats"}}}
     ]},
    {"width":138,"height":136,
     "title":{"text":"TNF 2h","fontSize":14,"offset":6},
     "layer":[
      {"data":{"name":"D3"},"mark":{"type":"circle","size":24,"color":"#000","opacity":1},
       "encoding":{"x":{"field":"tnf","type":"quantitative","title":"Tnf (no. of mRNA)","scale":{"domain":[0,50],"nice":false},"axis":{"values":[0,10,20,30,40,50],"tickSize":5,"labelFontSize":13,"titleFontSize":13,"titleFontStyle":"italic","domainColor":"#000","tickColor":"#000"}},
                   "y":{"field":"nfkbia","type":"quantitative","title":"Nfkbia (no. of mRNA)","scale":{"domain":[0,80],"nice":false},"axis":{"values":[0,20,40,60,80],"tickSize":5,"labelFontSize":13,"titleFontSize":13,"titleFontStyle":"italic","domainColor":"#000","tickColor":"#000"}}}},
      {"data":{"values":[{"stats":"r = 0.1378\np = 0.0904\nn = 152"}]},"mark":{"type":"text","align":"left","baseline":"top","dy":-7,"lineBreak":"\n","lineHeight":15,"fontSize":12.5},
       "encoding":{"x":{"datum":31.7,"type":"quantitative","scale":{"domain":[0,50],"nice":false}},"y":{"datum":72,"type":"quantitative","scale":{"domain":[0,80],"nice":false}},"text":{"field":"stats"}}}
     ]}
   ]}
   ]}
  ]}
 ]}
]
}
